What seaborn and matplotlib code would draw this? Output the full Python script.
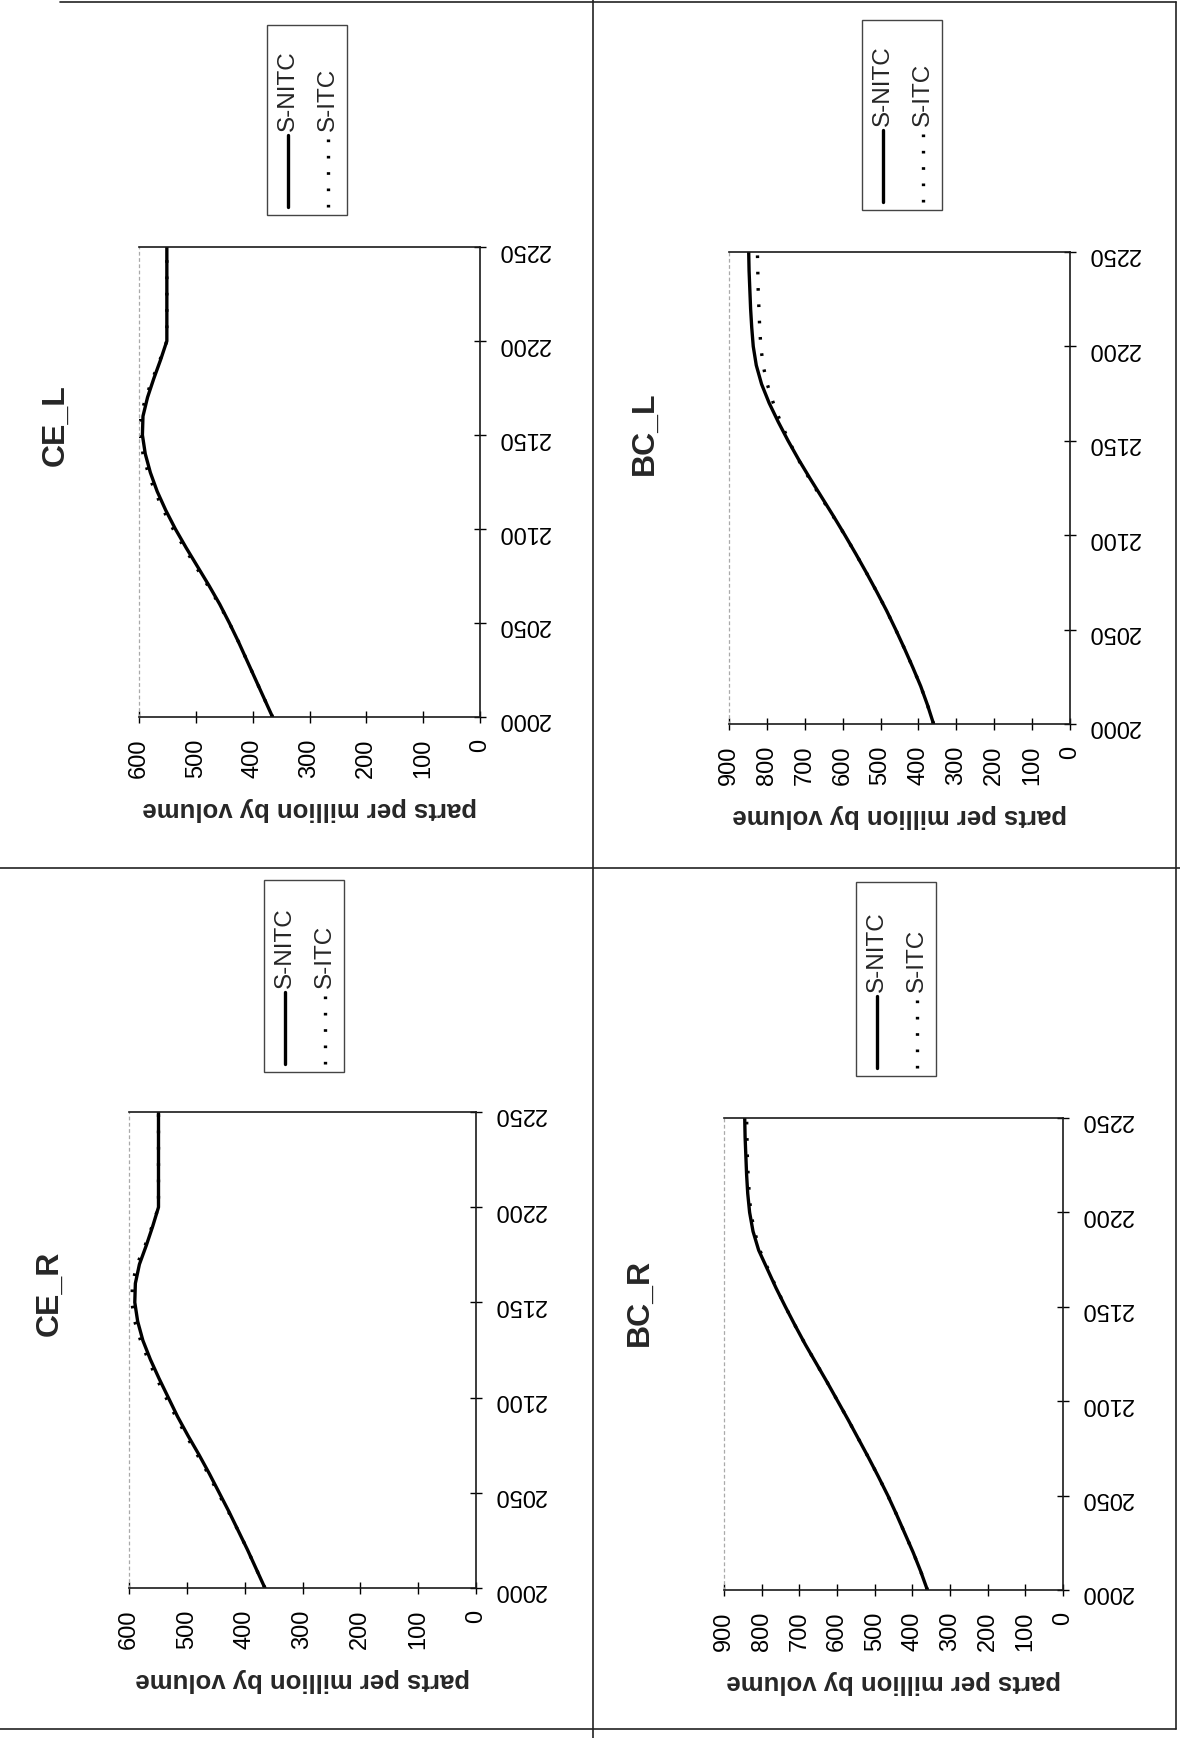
import matplotlib
matplotlib.use("Agg")
import matplotlib.pyplot as plt
import seaborn as sns
import pandas as pd
from matplotlib.lines import Line2D
from matplotlib.patches import Rectangle

# ---------------- data ----------------
years = list(range(2000, 2251, 10))
scenarios = ["S-NITC", "S-ITC"]

ce_r_nitc = [365, 380, 395, 411, 427, 444, 461, 479, 498, 516, 532, 548, 563,
             576, 585, 590, 589, 582, 570, 559, 549, 549, 549, 549, 549, 549]
ce_r_itc = [365, 380, 395, 411, 428, 446, 463, 482, 501, 519, 536, 552, 567,
            580, 590, 595, 594, 586, 572, 560, 549, 549, 549, 549, 549, 549]

ce_l_nitc = [365, 380, 395, 410, 425, 441, 458, 477, 497, 517, 536, 553, 568,
             580, 589, 594, 593, 585, 574, 562, 551, 551, 551, 551, 551, 551]
ce_l_itc = [365, 380, 395, 410, 425, 441, 459, 479, 500, 520, 540, 557, 572,
            584, 593, 598, 597, 588, 576, 563, 551, 551, 551, 551, 551, 551]

bc_r_nitc = [360, 378, 398, 420, 442, 465, 490, 516, 543, 570, 598, 626, 655,
             684, 711, 737, 762, 785, 808, 823, 832, 837, 840, 842, 844, 845]
bc_r_itc = [360, 378, 398, 420, 442, 465, 490, 516, 543, 570, 598, 626, 655,
            684, 711, 737, 761, 783, 805, 819, 829, 833, 836, 838, 839, 840]

bc_l_nitc = [360, 376, 394, 415, 437, 460, 484, 510, 537, 565, 594, 624, 655,
             686, 716, 744, 770, 794, 814, 828, 836, 840, 843, 845, 847, 848]
bc_l_itc = [360, 376, 394, 415, 437, 460, 484, 510, 537, 565, 594, 625, 657,
            688, 717, 742, 764, 783, 799, 810, 816, 819, 821, 823, 824, 825]

panel_titles = ["CE_R", "CE_L", "BC_R", "BC_L"]
panel_series = [(ce_r_nitc, ce_r_itc), (ce_l_nitc, ce_l_itc),
                (bc_r_nitc, bc_r_itc), (bc_l_nitc, bc_l_itc)]
panel_ppm_max = [600, 600, 900, 900]
year_ticks = list(range(2000, 2251, 50))
axis_label = "parts per million by volume"

# ---------------- layout (page is rotated 90 deg) ----------------
W, H = 1180, 1738
sns.set_theme(style="white")
plt.rcParams["font.family"] = ["Liberation Sans", "DejaVu Sans"]

fig = plt.figure(figsize=(W / 100, H / 100), dpi=100)
fig.patch.set_facecolor("white")


def fx(x):
    return x / W


def fy(y):
    return 1 - y / H


# frames in pixel coords: (x0, y0, x1, y1)
frames = {
    "CE_R": (129, 1112, 476, 1588),
    "CE_L": (139, 247, 480, 717),
    "BC_R": (724, 1118, 1063, 1590),
    "BC_L": (729, 252, 1070, 724),
}
title_pos = {"CE_R": (50, 1293), "CE_L": (56, 425), "BC_R": (640, 1302), "BC_L": (645, 433)}
legend_box = {"CE_R": (264, 880, 344, 1072), "CE_L": (267, 25, 347, 215),
              "BC_R": (856, 882, 936, 1076), "BC_L": (862, 20, 942, 210)}

dot_style = (0.8, 4.1)

for title, (nitc, itc), pmax in zip(panel_titles, panel_series, panel_ppm_max):
    x0, y0, x1, y1 = frames[title]
    ax = fig.add_axes([fx(x0), fy(y1), (x1 - x0) / W, (y1 - y0) / H])
    df = pd.DataFrame({
        "year": years + years,
        "ppm": itc + nitc,
        "scenario": ["S-ITC"] * len(years) + ["S-NITC"] * len(years),
    })
    sns.lineplot(data=df, x="ppm", y="year", hue="scenario", style="scenario",
                 hue_order=["S-ITC", "S-NITC"], style_order=["S-ITC", "S-NITC"],
                 palette={"S-ITC": "black", "S-NITC": "black"},
                 dashes={"S-ITC": dot_style, "S-NITC": ""},
                 orient="y", estimator=None, sort=False, linewidth=2.4,
                 legend=False, ax=ax)
    ax.set_xlim(pmax, 0)
    ax.set_ylim(2000, 2250)
    ax.set_xticks(list(range(0, pmax + 1, 100)))
    ax.set_yticks(year_ticks)
    ax.yaxis.tick_right()
    ax.tick_params(axis="y", which="both", left=False, right=True,
                   labelleft=False, labelright=True, labelrotation=180,
                   direction="inout", length=9, width=1, pad=8,
                   labelsize=17, colors="black")
    ax.tick_params(axis="x", bottom=True, top=False, labelrotation=90,
                   direction="inout", length=9, width=1, pad=11,
                   labelsize=17, colors="black")
    ax.set_ylabel("")
    ax.set_xlabel(axis_label, fontsize=18.5, fontweight="bold", rotation=180)
    ax.xaxis.set_label_coords(0.5, -92 / (y1 - y0))
    ax.xaxis.label.set_va("center")
    for side in ["right", "bottom", "top"]:
        ax.spines[side].set_color("#1a1a1a")
        ax.spines[side].set_linewidth(1.2)
    ax.spines["left"].set_color("#aaaaaa")
    ax.spines["left"].set_linewidth(0.9)
    ax.spines["left"].set_linestyle((0, (2, 3)))
    ax.grid(False)
    ax.set_facecolor("white")

    # title (rotated with the page)
    tx, ty = title_pos[title]
    fig.text(fx(tx), fy(ty), title, rotation=90, ha="center", va="center",
             fontsize=23, fontweight="bold")

    # legend (rotated with the page)
    bx0, by0, bx1, by1 = legend_box[title]
    fig.add_artist(Rectangle((fx(bx0), fy(by1)), (bx1 - bx0) / W, (by1 - by0) / H,
                             transform=fig.transFigure, fill=False,
                             edgecolor="#444444", linewidth=1.0))
    for k, (lab, dsh) in enumerate(zip(scenarios, ["", dot_style])):
        rx = bx0 + 21 + 40 * k
        ln = Line2D([fx(rx), fx(rx)], [fy(by1 - 8), fy(by1 - 80)],
                    transform=fig.transFigure, color="black", linewidth=2.4)
        if dsh:
            ln.set_dashes(dsh)
        fig.add_artist(ln)
        fig.text(fx(rx), fy(by1 - 84), lab, rotation=90, ha="center", va="bottom",
                 fontsize=17.5)

# page separators / borders
def page_line(xs, ys, lw=1.2, color="#222222"):
    fig.add_artist(Line2D([fx(v) for v in xs], [fy(v) for v in ys],
                          transform=fig.transFigure, color=color, linewidth=lw))

page_line([0, W], [868, 868])
page_line([593, 593], [0, H])
page_line([60, 1176], [2, 2])
page_line([0, 1176], [1729, 1729])
page_line([1176, 1176], [2, 1729])

fig.savefig("out.png", dpi=100, facecolor="white")
